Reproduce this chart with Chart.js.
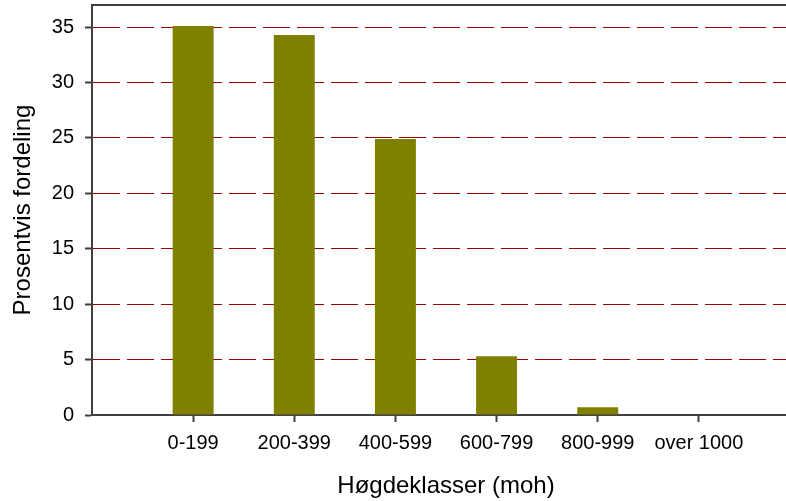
<!DOCTYPE html>
<html>
<head>
<meta charset="utf-8">
<script src="https://cdn.jsdelivr.net/npm/chart.js@4/dist/chart.umd.min.js"></script>
<style>
  html, body { margin: 0; padding: 0; background: #fff; overflow: hidden; }
  #wrap { width: 800px; height: 501px; }
</style>
</head>
<body>
<div id="wrap"><canvas id="myChart"></canvas></div>
<script>
// empty slots at both ends keep the axis spacing of the original
const klasser = ['', '0-199', '200-399', '400-599', '600-799', '800-999', 'over 1000', '']
const prosent = [null, 35.1, 34.3, 24.9, 5.3, 0.7, 0, null]
const yTicks = [0, 5, 10, 15, 20, 25, 30, 35]

const fontFamily = '"Liberation Sans", Arial, sans-serif'

const topBorder = {
    id: 'topBorder',
    afterDraw(chart) {
        const {ctx, chartArea} = chart
        ctx.save()
        ctx.strokeStyle = '#404040'
        ctx.lineWidth = 2
        ctx.beginPath()
        ctx.moveTo(chartArea.left - 1, chartArea.top)
        ctx.lineTo(chartArea.right, chartArea.top)
        ctx.stroke()
        ctx.restore()
    }
}

const config = {
    type: 'bar',
    data: {
        labels: klasser,
        datasets: [{
            data: prosent,
            backgroundColor: '#808000',
            borderWidth: 0,
            barPercentage: 0.405,
            categoryPercentage: 1
        }]
    },
    options: {
        responsive: true,
        maintainAspectRatio: false,
        animation: false,
        layout: { padding: { top: 5, left: 9, right: 0, bottom: 0 } },
        plugins: { legend: { display: false }, tooltip: { enabled: false } },
        scales: {
            x: {
                offset: false,
                afterFit: (scale) => {
                    scale.height = 86
                    scale.paddingLeft = 0
                    scale.paddingRight = 0
                },
                grid: {
                    offset: false,
                    drawOnChartArea: false,
                    tickLength: 7,
                    tickColor: (ctx) => klasser[ctx.index] ? '#404040' : 'rgba(0,0,0,0)',
                    tickWidth: 2
                },
                border: { color: '#404040', width: 2 },
                ticks: {
                    color: '#000',
                    padding: 9,
                    maxRotation: 0,
                    autoSkip: false,
                    font: { family: fontFamily, size: 20 }
                },
                title: {
                    display: true,
                    text: 'Høgdeklasser (moh)',
                    color: '#000',
                    padding: { top: 0, bottom: 0 },
                    font: { family: fontFamily, size: 24 }
                }
            },
            y: {
                min: 0,
                max: 37,
                afterFit: (scale) => {
                    scale.width = 83
                    scale.paddingTop = 0
                    scale.paddingBottom = 0
                },
                afterBuildTicks: (scale) => {
                    scale.ticks = yTicks.map(v => ({ value: v }))
                },
                grid: {
                    color: '#990000',
                    lineWidth: 1,
                    tickLength: 7,
                    tickColor: '#404040',
                    tickWidth: 2,
                    tickBorderDash: []
                },
                border: { color: '#404040', width: 2, dash: [27, 7] },
                ticks: {
                    color: '#000',
                    padding: 11,
                    font: { family: fontFamily, size: 20 }
                },
                title: {
                    display: true,
                    text: 'Prosentvis fordeling',
                    color: '#000',
                    padding: { top: 0, bottom: 0 },
                    font: { family: fontFamily, size: 24 }
                }
            }
        }
    },
    plugins: [topBorder]
}

const chartDOM = document.getElementById('myChart')
new Chart(chartDOM, config)
</script>
</body>
</html>
